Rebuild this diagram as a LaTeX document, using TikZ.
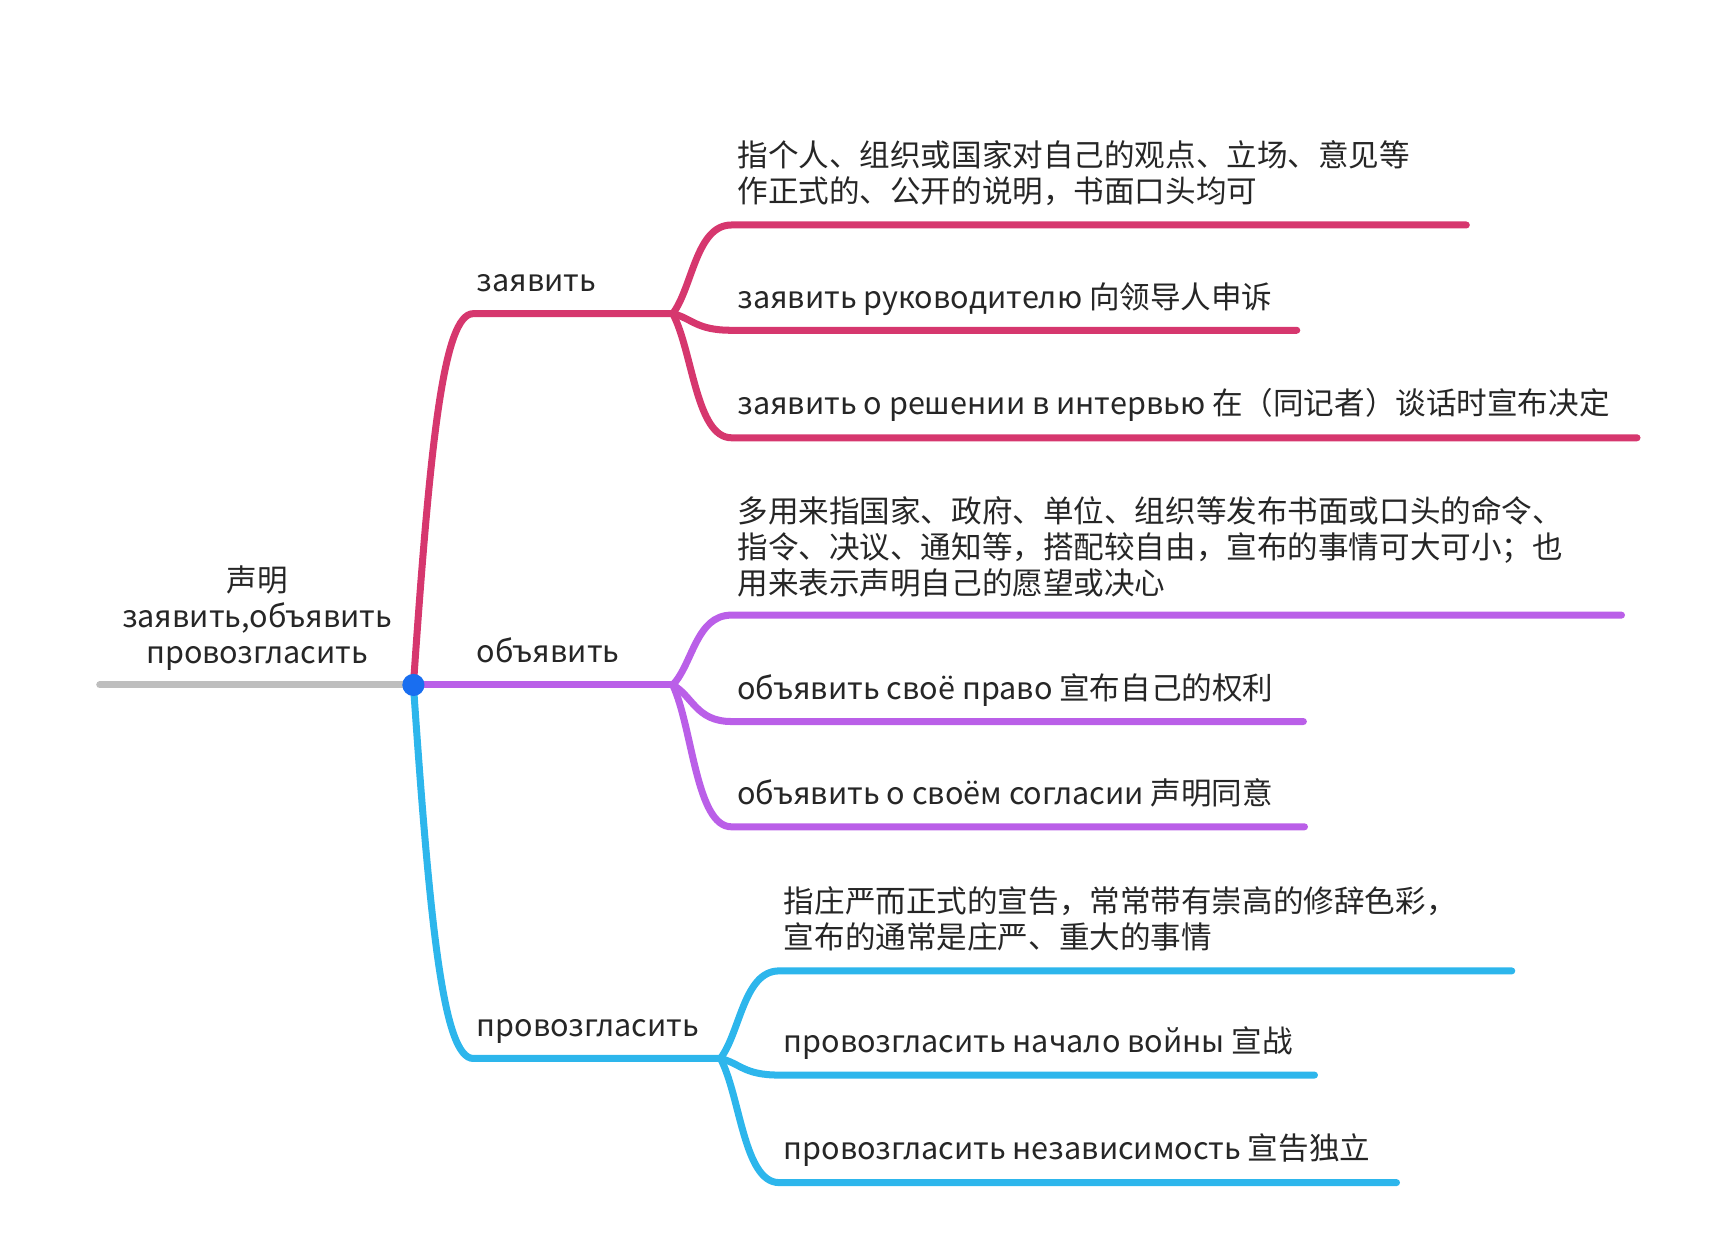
\documentclass[tikz,border=0pt]{standalone}
\usepackage{fontspec}
\setmainfont{Noto Sans CJK SC}
\begin{document}
\begin{tikzpicture}[x=0.02cm,y=-0.02cm,
  br/.style={line width=3.6pt,line cap=round},
  txt/.style={anchor=base west,inner sep=0pt,font=\fontsize{15.7}{18.5}\selectfont,text=black!85,align=left}]
\definecolor{cr}{RGB}{214,55,110}
\definecolor{cp}{RGB}{186,95,232}
\definecolor{cb}{RGB}{45,182,236}
\definecolor{cg}{RGB}{190,190,190}
\definecolor{cd}{RGB}{25,110,240}
\useasboundingbox (0,0) rectangle (1560,1128);
\coordinate (root) at (90,618);
\coordinate (c) at (373,618);
\coordinate (r0) at (427,283); \coordinate (r1) at (607,283);
\coordinate (p1) at (607,618);
\coordinate (b0) at (427,955); \coordinate (b1) at (650,955);
% root
\draw[br,cg] (root) -- (c);
\node[txt,anchor=center,align=center] (rt) at (232,558) {声明\\заявить,объявить\\провозгласить};
% red
\draw[br,cr] (c) .. controls (388,400) and (400,283) .. (r0) -- (r1);
\node[txt] (rl) at (430,263) {заявить};
\foreach \y/\e/\n in {203/1323/ra,298/1170/rb,395/1477/rc}{
  \coordinate (\n s) at (660,\y); \coordinate (\n e) at (\e,\y);
  \draw[br,cr] (r1) .. controls (625,\y*0.3+283*0.7) and (628,\y) .. (\n s) -- (\n e);}
\node[txt] (rat) at (665,183) {指个人、组织或国家对自己的观点、立场、意见等\\作正式的、公开的说明，书面口头均可};
\node[txt] (rbt) at (665,278) {заявить руководителю 向领导人申诉};
\node[txt] (rct) at (665,374) {заявить о решении в интервью 在（同记者）谈话时宣布决定};
% purple
\draw[br,cp] (c) -- (p1);
\node[txt] (pl) at (430,598) {объявить};
\foreach \y/\e/\n in {555/1463/pa,651/1176/pb,746/1177/pc}{
  \coordinate (\n s) at (660,\y); \coordinate (\n e) at (\e,\y);
  \draw[br,cp] (p1) .. controls (625,\y*0.3+618*0.7) and (628,\y) .. (\n s) -- (\n e);}
\node[txt] (pat) at (665,536) {多用来指国家、政府、单位、组织等发布书面或口头的命令、\\指令、决议、通知等，搭配较自由，宣布的事情可大可小；也\\用来表示声明自己的愿望或决心};
\node[txt] (pbt) at (665,631) {объявить своё право 宣布自己的权利};
\node[txt] (pct) at (665,726) {объявить о своём согласии 声明同意};
% blue
\draw[br,cb] (c) .. controls (388,836) and (400,955) .. (b0) -- (b1);
\node[txt] (bl) at (430,935) {провозгласить};
\foreach \y/\e/\n in {876/1364/ba,970/1186/bb,1067/1260/bc}{
  \coordinate (\n s) at (703,\y); \coordinate (\n e) at (\e,\y);
  \draw[br,cb] (b1) .. controls (668,\y*0.3+955*0.7) and (671,\y) .. (\n s) -- (\n e);}
\node[txt] (bat) at (707,856) {指庄严而正式的宣告，常常带有崇高的修辞色彩，\\宣布的通常是庄严、重大的事情};
\node[txt] (bbt) at (707,950) {провозгласить начало войны 宣战};
\node[txt] (bct) at (707,1046) {провозгласить независимость 宣告独立};
\fill[cd] (c) circle (10);
\end{tikzpicture}
\end{document}
